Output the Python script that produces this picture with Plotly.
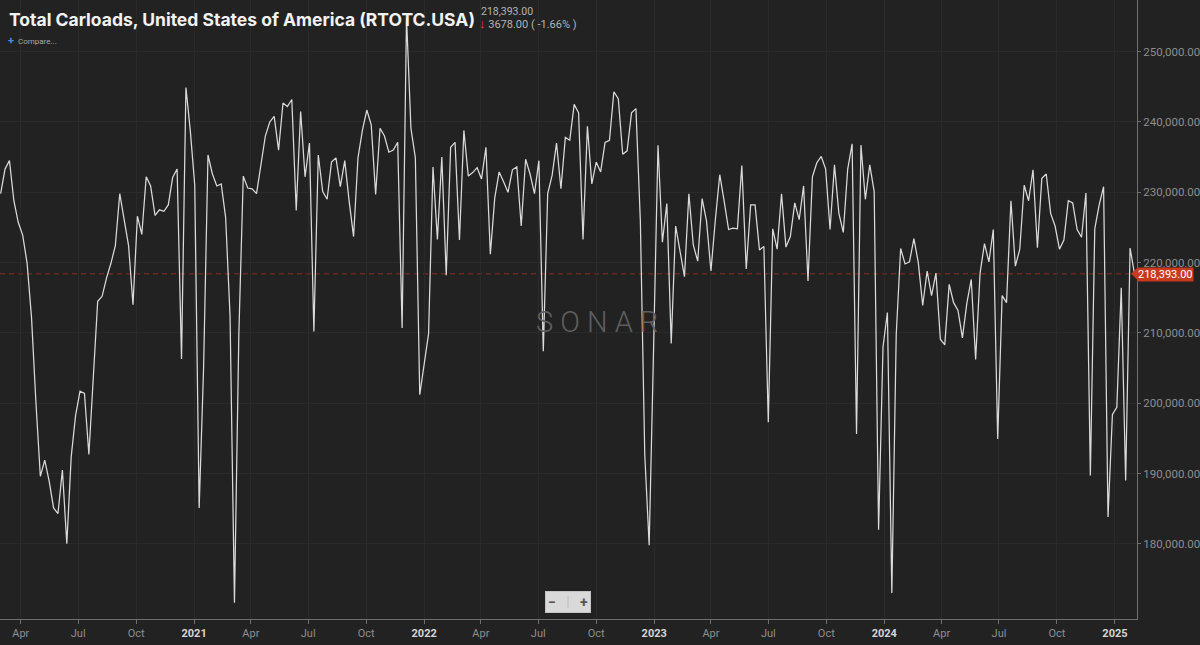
import pandas as pd
import plotly.graph_objects as go

# Weekly total carloads (RTOTC.USA)
LAST_WEEK = "2025-02-01"

CARLOADS_2020 = [229800, 233300, 234500, 228800, 225700, 223900, 219900, 212200, 200100, 189600,
                 191900, 188900, 185100, 184300, 190500, 180000, 192400, 198300, 201700, 201400,
                 192700, 203100, 214500, 215200, 217800, 219900, 222400, 229800, 226000, 222400,
                 214000, 226600, 224000, 232200, 230900, 226700, 227500, 227300, 228200, 232100,
                 233300, 206300, 244900, 238700, 231000]
CARLOADS_2021 = [185100, 205000, 235300, 232600, 230900, 231200, 226400, 212400, 171600, 210000,
                 232300, 230600, 230500, 229800, 233700, 238000, 240000, 240800, 236000, 242700,
                 242200, 243200, 227400, 241500, 232200, 237000, 210200, 235300, 230100, 229000,
                 234300, 234900, 230800, 234500, 228700, 223700, 234900, 238800, 241700, 239600,
                 229700, 239100, 238000, 235700, 236000, 237100, 210700, 254900, 239100, 234900,
                 201200, 205600]
CARLOADS_2022 = [209900, 233600, 223300, 235000, 218200, 236400, 237100, 223200, 238800, 232300,
                 232800, 233500, 231900, 236400, 221200, 229200, 232900, 231500, 230000, 233200,
                 233600, 225200, 234700, 232600, 229800, 234500, 207400, 229800, 232400, 237000,
                 230500, 237800, 237400, 242500, 241300, 223300, 239400, 231200, 234300, 232900,
                 237100, 237400, 244300, 243300, 235400, 235900, 241300, 241900, 225900, 192700,
                 179800, 207900]
CARLOADS_2023 = [236700, 222900, 228400, 208500, 225200, 221600, 218000, 229800, 222500, 220200,
                 229100, 225900, 218800, 226100, 232500, 228700, 224700, 224900, 224800, 233800,
                 219100, 228200, 228200, 221800, 222300, 197300, 224800, 221900, 229800, 222200,
                 223700, 228500, 226100, 230900, 217400, 232200, 234200, 235100, 233300, 224700,
                 233900, 227000, 224300, 233300, 236900, 195600, 236700, 229000, 233900, 230100,
                 182000, 208000]
CARLOADS_2024 = [212900, 173000, 209800, 222000, 219800, 220100, 223400, 220000, 213900, 218800,
                 215300, 218500, 209100, 208300, 216900, 214300, 213200, 209300, 214200, 217600,
                 206200, 218500, 222700, 220100, 224700, 194900, 215300, 214300, 228800, 219500,
                 221900, 231000, 228800, 233200, 222100, 232000, 232600, 227000, 225200, 221900,
                 223200, 228800, 228500, 224700, 223600, 229900, 189700, 224800, 228200, 230800,
                 183800, 198400, 199400]
CARLOADS_2025 = [216400, 189000, 222071, 218393]

TICK_DATES = ["2020-04-01", "2020-07-01", "2020-10-01", "2021-01-01",
              "2021-04-01", "2021-07-01", "2021-10-01", "2022-01-01",
              "2022-04-01", "2022-07-01", "2022-10-01", "2023-01-01",
              "2023-04-01", "2023-07-01", "2023-10-01", "2024-01-01",
              "2024-04-01", "2024-07-01", "2024-10-01", "2025-01-01"]
TICK_LABELS = ["Apr", "Jul", "Oct", "2021", "Apr", "Jul", "Oct", "2022",
               "Apr", "Jul", "Oct", "2023", "Apr", "Jul", "Oct", "2024",
               "Apr", "Jul", "Oct", "2025"]
Y_TICKS = [180000, 190000, 200000, 210000, 220000, 230000, 240000, 250000]

BG = "#222222"
GRID = "#2a2a2a"
AXIS = "#707070"
LABEL = "#8e8e8e"
RED = "#c8391d"

W, H = 1200, 645
R_MARGIN, B_MARGIN = 58, 26
PLOT_W, PLOT_H = W - R_MARGIN, H - B_MARGIN


def px_x(px):
    return px / PLOT_W


def px_y(px):
    return 1 - px / PLOT_H


carloads = CARLOADS_2020 + CARLOADS_2021 + CARLOADS_2022 + CARLOADS_2023 + CARLOADS_2024 + CARLOADS_2025
weeks = pd.date_range(end=LAST_WEEK, periods=len(carloads), freq="7D")
last = carloads[-1]
prev = carloads[-2]
change = last - prev
pct = change / prev * 100

tick_text = []
for label in TICK_LABELS:
    if label.isdigit():
        tick_text.append(f'<span style="color:#d6d6d6"><b>{label}</b></span>')
    else:
        tick_text.append(label)

fig = go.Figure()
fig.add_trace(go.Scatter(
    x=weeks, y=carloads, mode="lines",
    line=dict(color="#dadada", width=1.25),
    name="Total Carloads",
    hovertemplate="%{x|%b %d, %Y}<br>%{y:,.2f}<extra></extra>",
))

# dashed line at last value
fig.add_shape(type="line", xref="paper", x0=0, x1=1, yref="y", y0=last, y1=last,
              line=dict(color="#8e2d1c", width=1, dash="5px,4px"), layer="below")

# last value tag on the right axis
fig.add_shape(type="path", xref="paper", yref="y",
              path=f"M {px_x(PLOT_W - 6)},{last} L {px_x(PLOT_W + 1)},{last + 950} "
                   f"L {px_x(PLOT_W + 1)},{last - 950} Z",
              fillcolor=RED, line=dict(width=0))
fig.add_annotation(xref="paper", yref="y", x=1, y=last, xanchor="left", yanchor="middle",
                   text=f"{last:,.2f}", showarrow=False, bgcolor=RED, borderpad=0, xshift=0, yshift=-1,
                   font=dict(family="Roboto", size=11, color="#ffffff"))

# header
fig.add_annotation(xref="paper", yref="paper", x=px_x(7), y=px_y(20), xanchor="left", yanchor="middle",
                   text="<b>Total Carloads, United States of America (RTOTC.USA)</b>", showarrow=False,
                   font=dict(family="Inter", size=17.5, color="#f2f2f2"))
fig.add_annotation(xref="paper", yref="paper", x=px_x(481), y=px_y(12), xanchor="left", yanchor="middle",
                   text=f"{last:,.2f}", showarrow=False,
                   font=dict(family="Roboto", size=10.5, color="#b4b4b4"))
fig.add_annotation(xref="paper", yref="paper", x=px_x(479), y=px_y(24), xanchor="left", yanchor="middle",
                   text=f'<span style="color:#e5453a;font-size:13px"><b>↓</b></span> {abs(change):.2f} ( {pct:.2f}% )',
                   showarrow=False, font=dict(family="Roboto", size=11, color="#b4b4b4"))
fig.add_annotation(xref="paper", yref="paper", x=px_x(6), y=px_y(41), xanchor="left", yanchor="middle",
                   text='<span style="color:#3d8fe8;font-size:11px"><b>+</b></span>  Compare...',
                   showarrow=False, font=dict(family="Roboto", size=8, color="#a8a8a8"))

# watermark
fig.add_annotation(xref="paper", yref="paper", x=px_x(600), y=px_y(322), xanchor="center", yanchor="middle",
                   text="S O N A R", showarrow=False,
                   font=dict(family="Roboto", size=29, color="#5e5e5e", weight=300))

# zoom buttons
fig.add_annotation(xref="paper", yref="paper", x=px_x(570), y=px_y(602), xanchor="center", yanchor="middle",
                   text='<b>−</b>   <span style="color:#bdbdbd">|</span>   <b>+</b>', showarrow=False,
                   bgcolor="#d9d9d9", bordercolor="#c4c4c4", borderwidth=1, borderpad=2,
                   font=dict(family="Roboto", size=14, color="#555555"))

fig.update_layout(
    width=W, height=H,
    margin=dict(l=0, r=R_MARGIN, t=0, b=B_MARGIN),
    paper_bgcolor=BG, plot_bgcolor=BG,
    showlegend=False,
    hovermode="x",
    font=dict(family="Roboto", color=LABEL),
    xaxis=dict(
        type="date",
        range=[weeks[0] - pd.Timedelta(days=1), weeks[-1] + pd.Timedelta(days=4)],
        tickvals=TICK_DATES, ticktext=tick_text,
        tickfont=dict(size=11, color=LABEL),
        showgrid=True, gridcolor=GRID, gridwidth=1,
        showline=True, linecolor=AXIS, linewidth=1,
        ticks="outside", ticklen=4, tickcolor=AXIS,
        zeroline=False, fixedrange=True,
    ),
    yaxis=dict(
        side="right",
        range=[169300, 257350],
        tickvals=Y_TICKS, tickformat=",.2f",
        tickfont=dict(size=11.5, color=LABEL),
        showgrid=True, gridcolor=GRID, gridwidth=1,
        showline=True, linecolor=AXIS, linewidth=1,
        ticks="outside", ticklen=3, tickcolor=AXIS,
        zeroline=False, fixedrange=True,
    ),
)

fig.write_html("out.html", config={"displayModeBar": False},
               post_script="document.body.style.margin='0';document.body.style.background='#222222';")
